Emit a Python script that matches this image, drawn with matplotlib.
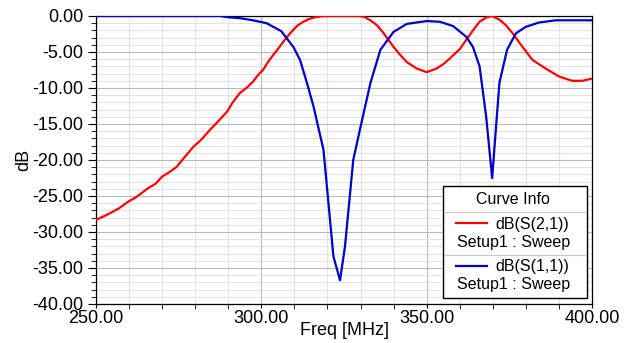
""" S-parameter sweep plot: dB(S(2,1)) and dB(S(1,1)) vs frequency """

import matplotlib
matplotlib.use("Agg")
import matplotlib.pyplot as plt
from matplotlib.patches import Rectangle
from matplotlib.lines import Line2D
from matplotlib.ticker import MultipleLocator, FormatStrFormatter

plt.rcParams["font.family"] = ["Liberation Sans", "DejaVu Sans"]

# dB(S(2,1))
s21_freq = [250, 252, 254.2, 257, 259.7, 262, 265.8, 268, 270, 272.5,
            274.5, 277, 279.4, 282, 284.5, 287, 289.6, 291.5, 293.5, 295.5,
            297.5, 299, 300.5, 302, 303.6, 305, 306.6, 308, 309.7, 311,
            312.7, 314.5, 316, 318, 320, 326, 329, 331,
            333, 335, 337, 340, 342, 344, 347, 350, 353, 355, 357, 360, 362, 364, 366,
            368, 369.7, 372, 374, 376, 379, 382, 386, 390, 392, 394, 397, 400]
s21_db = [-28.3, -27.9, -27.4, -26.7, -25.8, -25.2, -23.9, -23.3, -22.3, -21.6,
          -20.9, -19.5, -18.2, -17.1, -15.8, -14.6, -13.3, -11.9, -10.7, -10.0,
          -9.1, -8.2, -7.5, -6.4, -5.4, -4.6, -3.6, -2.8, -1.9, -1.3,
          -0.8, -0.4, -0.2, -0.05, 0.0, 0.0, 0.0, -0.1,
          -0.6, -1.3, -2.4, -4.3, -5.4, -6.4, -7.3, -7.8, -7.3, -6.7, -5.9, -4.6, -3.3, -2.0, -0.8,
          -0.2, 0.0, -0.5, -1.3, -2.4, -4.3, -6.1, -7.3, -8.4, -8.7, -9.0, -9.0, -8.7]

# dB(S(1,1))
s11_freq = [250, 287.5, 290.5, 293.5, 297.5, 301.6, 306, 309.7, 311.7, 313.8,
            315.8, 318.8, 321.8, 323.8, 325.3, 327.8, 330, 333, 336, 340,
            344, 350, 354, 358, 362, 364, 366, 368, 369.8, 372,
            374.3, 377, 380, 384, 389, 400]
s11_db = [0.0, 0.0, -0.2, -0.3, -0.6, -1.0, -2.1, -4.3, -6.1, -9.3,
          -12.6, -18.6, -33.4, -36.7, -32.0, -20.0, -15.4, -9.3, -4.7, -2.2,
          -1.1, -0.7, -0.8, -1.4, -2.9, -4.3, -7.0, -14.0, -22.5, -9.3,
          -4.7, -2.4, -1.5, -0.9, -0.6, -0.6]

W, H = 629, 343


def px(x, y):
    """ pixel position -> figure fraction """
    return x / W, 1 - y / H


fig = plt.figure(figsize=(W / 100, H / 100), dpi=100)
ax = fig.add_axes([96 / W, 1 - 304 / H, (592 - 96) / W, (304 - 16) / H])

red = "#ff0000"
blue = "#0000c8"
ax.plot(s21_freq, s21_db, color=red, lw=1.6, zorder=3)
ax.plot(s11_freq, s11_db, color=blue, lw=1.6, zorder=3)

ax.set_xlim(250, 400)
ax.set_ylim(-40, 0)

ax.xaxis.set_major_locator(MultipleLocator(50))
ax.xaxis.set_minor_locator(MultipleLocator(10))
ax.yaxis.set_major_locator(MultipleLocator(5))
ax.yaxis.set_minor_locator(MultipleLocator(1))
ax.xaxis.set_major_formatter(FormatStrFormatter("%.2f"))
ax.yaxis.set_major_formatter(FormatStrFormatter("%.2f"))

ax.grid(which="major", color="#b9b9b9", lw=0.8)
ax.grid(which="minor", color="#e3e3e3", lw=0.8)
ax.set_axisbelow(True)

ax.tick_params(which="major", direction="out", width=0.8,
               labelsize=13, colors="black")
ax.tick_params(axis="y", which="major", length=6, pad=3)
ax.tick_params(axis="y", which="minor", direction="out", length=3.5, width=0.6)
ax.tick_params(axis="x", which="major", length=3, pad=1)
ax.tick_params(axis="x", which="minor", direction="out", length=3.5, width=0.6)

for sp in ax.spines.values():
    sp.set_color("black")
    sp.set_linewidth(0.9)

ax.set_xlabel("Freq [MHz]", fontsize=13, labelpad=-3)
ax.set_ylabel("dB", fontsize=13, labelpad=0)

# Curve Info box
x0, y0 = px(443, 298)
x1, y1 = px(587, 186)
fig.add_artist(Rectangle((x0, y0), x1 - x0, y1 - y0, transform=fig.transFigure,
                         facecolor="white", edgecolor="black", lw=1.0, zorder=10))
for sy in (212, 255):
    a, b = px(444, sy)
    c, _ = px(586, sy)
    fig.add_artist(Line2D([a, c], [b, b], transform=fig.transFigure,
                          color="#c8c8c8", lw=0.8, zorder=11))

fs = 11.5
fig.text(*px(513, 199), "Curve Info", ha="center", va="center", fontsize=fs, zorder=12)

entries = [("dB(S(2,1))", red, 224), ("dB(S(1,1))", blue, 267)]
for label, col, ly in entries:
    a, b = px(456, ly - 1)
    c, _ = px(487, ly - 1)
    fig.add_artist(Line2D([a, c], [b, b], transform=fig.transFigure,
                          color=col, lw=1.6, zorder=12))
    fig.text(*px(569, ly), label, ha="right", va="center", fontsize=fs, zorder=12)
    fig.text(*px(514, ly + 18), "Setup1 : Sweep", ha="center", va="center",
             fontsize=fs, zorder=12)

fig.savefig("out.png", dpi=100)
